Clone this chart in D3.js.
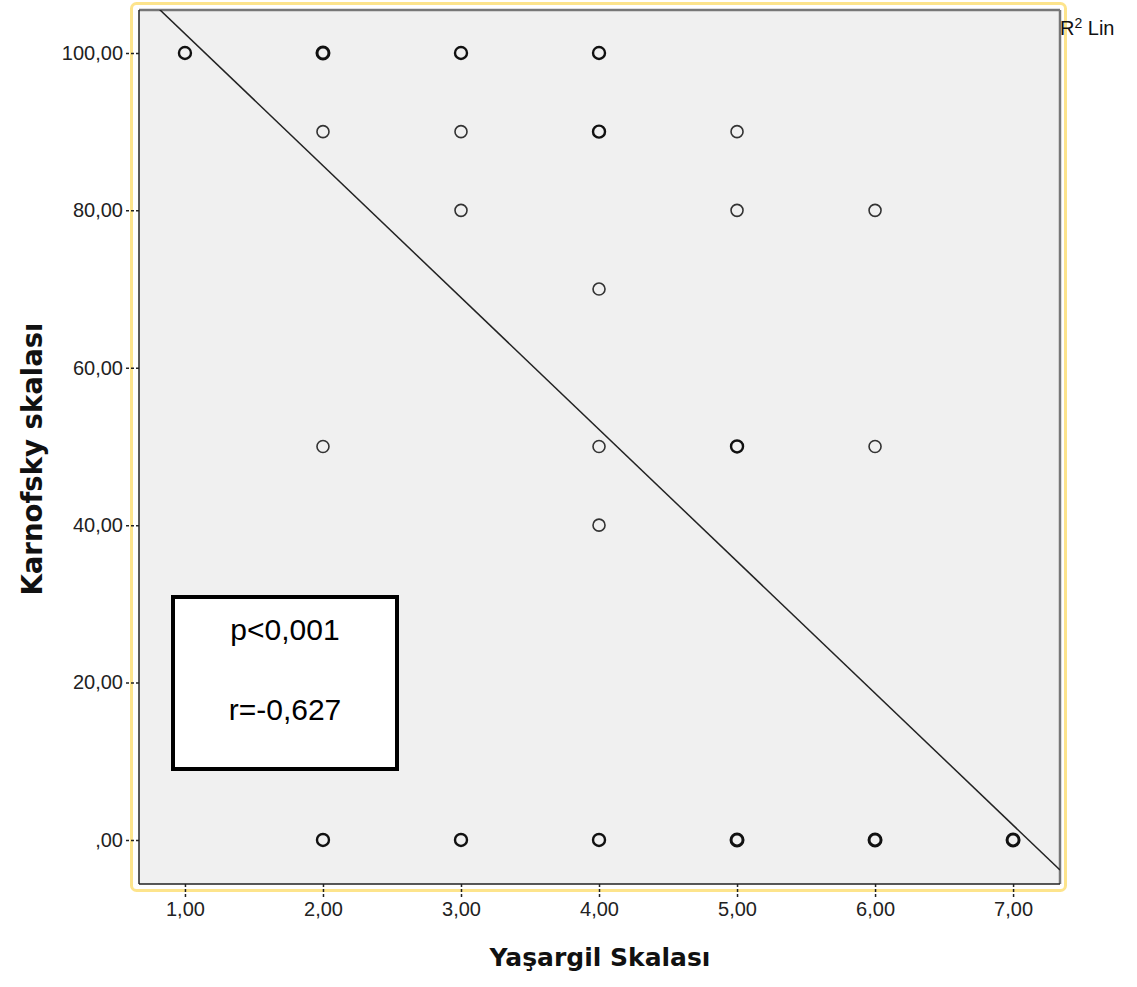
<!DOCTYPE html>
<html>
<head>
<meta charset="utf-8">
<script src="https://cdn.jsdelivr.net/npm/d3@7"></script>
<style>
  body { margin: 0; background: #fff; }
  .tick-label { font-family: "Liberation Sans", Arial, sans-serif; font-size: 20px; fill: #222; }
  .title { font-family: "DejaVu Sans", sans-serif; font-weight: bold; fill: #111; }
</style>
</head>
<body>
<script>
// data
var yasargil  = [1, 2, 2, 2, 2, 3, 3, 3, 3, 4, 4, 4, 4, 4, 4, 5, 5, 5, 5, 6, 6, 6, 7];
var karnofsky = [100, 100, 90, 50, 0, 100, 90, 80, 0, 100, 90, 70, 50, 40, 0, 90, 80, 50, 0, 80, 50, 0, 0];
var counts    = [2, 3, 1, 1, 2, 2, 1, 1, 2, 2, 2, 1, 1, 1, 2, 1, 1, 2, 3, 1, 1, 3, 3];
var xTicks = [1, 2, 3, 4, 5, 6, 7];
var yTicks = [0, 20, 40, 60, 80, 100];
var fitIntercept = 119.2;
var fitSlope = -16.76;
var statLines = ["p<0,001", "r=-0,627"];

//Width and height
var w = 1137;
var h = 987;
var plotL = 139, plotR = 1060, plotT = 10, plotB = 884;

var svg = d3.select("body")
            .append("svg")
            .attr("width", w)
            .attr("height", h);

//scales
var xScale = d3.scaleLinear()
            .domain([0.667, 7.34])
            .range([plotL, plotR]);

var yScale = d3.scaleLinear()
            .domain([-5.6, 105.46])
            .range([plotB, plotT]);

function fmt(v){
    var s = v.toFixed(2).replace(".", ",");
    return s.replace(/^0,/, ",");
}

//yellow frame
svg.append("rect")
    .attr("x", 131.5).attr("y", 3.5)
    .attr("width", 934).attr("height", 887)
    .attr("rx", 5)
    .attr("fill", "none")
    .attr("stroke", "#fde48c")
    .attr("stroke-width", 3);

//plot background
svg.append("rect")
    .attr("x", plotL).attr("y", plotT)
    .attr("width", plotR - plotL).attr("height", plotB - plotT)
    .attr("fill", "#f0f0f0");

//clip for the fit line
svg.append("clipPath").attr("id", "plotclip")
    .append("rect")
    .attr("x", plotL).attr("y", plotT)
    .attr("width", plotR - plotL).attr("height", plotB - plotT);

//Y axis
var yAxis = svg.append("g")
    .attr("transform", "translate(" + plotL + ",0)")
    .call(d3.axisLeft(yScale).tickValues(yTicks).tickSize(13).tickPadding(3).tickFormat(fmt));
yAxis.select(".domain").remove();
yAxis.selectAll(".tick line").attr("stroke", "#222").attr("stroke-width", 1.5).attr("stroke-dasharray", "3,2");
yAxis.selectAll(".tick text").attr("class", "tick-label").attr("fill", null);

//X axis
var xAxis = svg.append("g")
    .attr("transform", "translate(0," + plotB + ")")
    .call(d3.axisBottom(xScale).tickValues(xTicks).tickSize(13).tickPadding(5).tickFormat(fmt));
xAxis.select(".domain").remove();
xAxis.selectAll(".tick line").attr("stroke", "#222").attr("stroke-width", 1.5).attr("stroke-dasharray", "3,2");
xAxis.selectAll(".tick text").attr("class", "tick-label").attr("fill", null);

//plot border: top/right gray, left/bottom dark
svg.append("line").attr("x1", plotL).attr("x2", plotR).attr("y1", plotT).attr("y2", plotT)
    .attr("stroke", "#777").attr("stroke-width", 2.5);
svg.append("line").attr("x1", plotR).attr("x2", plotR).attr("y1", plotT).attr("y2", plotB)
    .attr("stroke", "#777").attr("stroke-width", 2.5);
svg.append("line").attr("x1", plotL).attr("x2", plotL).attr("y1", plotT).attr("y2", plotB)
    .attr("stroke", "#222").attr("stroke-width", 1.5);
svg.append("line").attr("x1", plotL).attr("x2", plotR).attr("y1", plotB).attr("y2", plotB)
    .attr("stroke", "#222").attr("stroke-width", 1.5);

//points
var pts = yasargil.map(function(d, i){ return [d, karnofsky[i], counts[i]]; });
svg.append("g").selectAll("circle")
    .data(pts)
    .enter()
    .append("circle")
    .attr("cx", function(d){ return xScale(d[0]); })
    .attr("cy", function(d){ return yScale(d[1]); })
    .attr("r", 6)
    .attr("fill", "none")
    .attr("stroke", function(d){ return d[2] > 1 ? "#111" : "#333"; })
    .attr("stroke-width", function(d){ return d[2] >= 3 ? 3 : (d[2] == 2 ? 2.4 : 1.6); });

//fit line
var fitLine = d3.line()
    .x(function(d){ return xScale(d); })
    .y(function(d){ return yScale(fitIntercept + fitSlope * d); });
svg.append("path")
    .datum(xScale.domain())
    .attr("clip-path", "url(#plotclip)")
    .attr("fill", "none")
    .attr("stroke", "#222")
    .attr("stroke-width", 1.5)
    .attr("d", fitLine);

//stats box
svg.append("rect")
    .attr("x", 173).attr("y", 597)
    .attr("width", 224).attr("height", 172)
    .attr("fill", "#fff")
    .attr("stroke", "#000")
    .attr("stroke-width", 4);
svg.selectAll(".stat")
    .data(statLines)
    .enter()
    .append("text")
    .attr("class", "stat")
    .attr("x", 285)
    .attr("y", function(d, i){ return 640 + i * 80; })
    .attr("text-anchor", "middle")
    .attr("font-family", "Liberation Sans, Arial, sans-serif")
    .attr("font-size", 30)
    .attr("fill", "#000")
    .text(function(d){ return d; });

//R2 Lin legend
var leg = svg.append("text")
    .attr("x", 1060).attr("y", 35)
    .attr("font-family", "Liberation Sans, Arial, sans-serif")
    .attr("font-size", 20)
    .attr("fill", "#111");
leg.append("tspan").text("R");
leg.append("tspan").attr("font-size", 14).attr("dy", -7).text("2");
leg.append("tspan").attr("dy", 7).text(" Lin");

//axis titles
svg.append("text")
    .attr("class", "title")
    .attr("transform", "translate(42,459) rotate(-90)")
    .attr("text-anchor", "middle")
    .attr("font-size", 27.5)
    .text("Karnofsky skalası");

svg.append("text")
    .attr("class", "title")
    .attr("x", 600).attr("y", 966)
    .attr("text-anchor", "middle")
    .attr("font-size", 25)
    .text("Yaşargil Skalası");
</script>
</body>
</html>
